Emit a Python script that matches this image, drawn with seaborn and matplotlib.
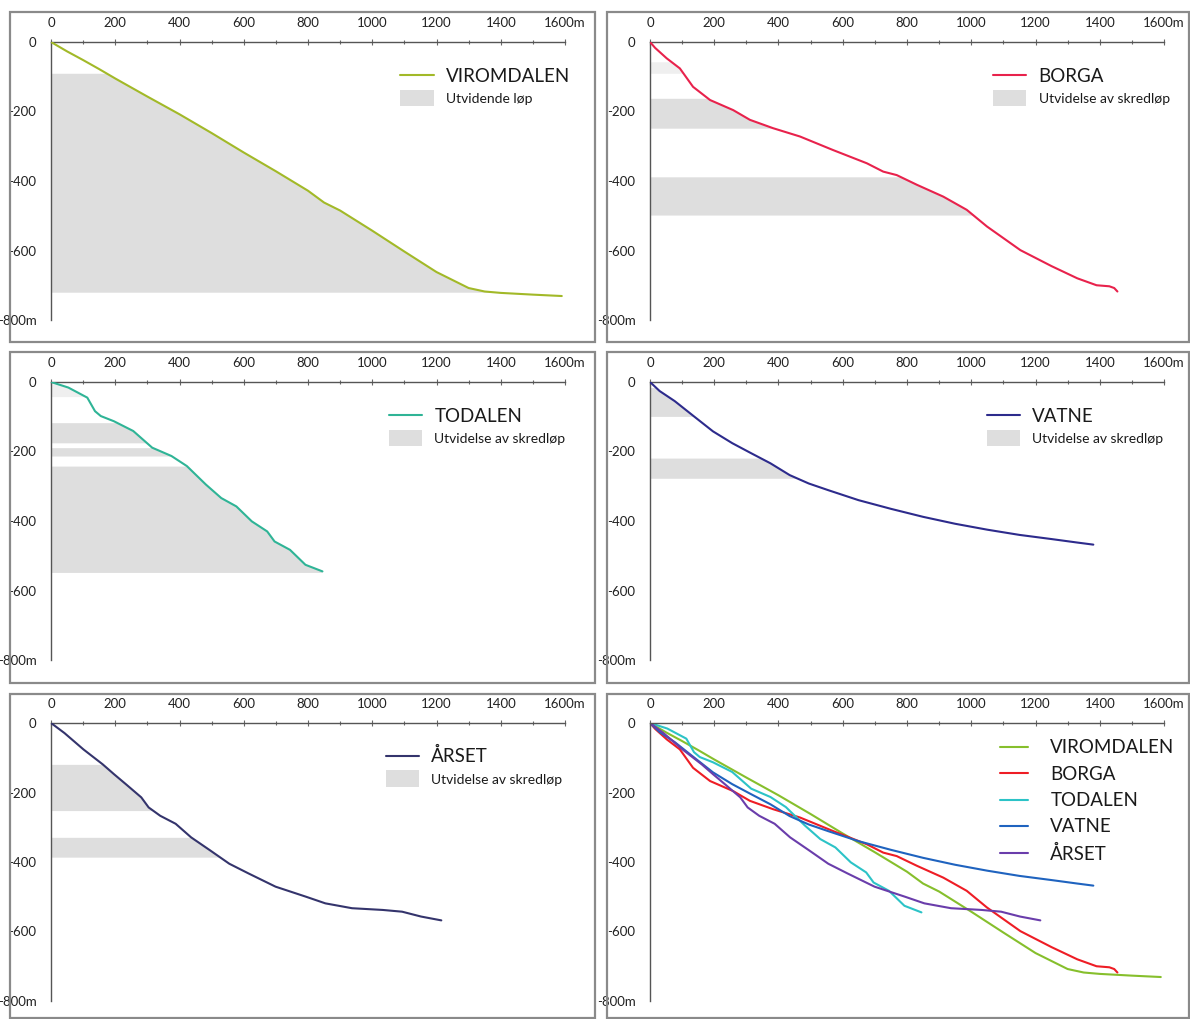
import numpy as np
import pandas as pd
import matplotlib
matplotlib.use("Agg")
import matplotlib.pyplot as plt
from matplotlib.lines import Line2D
from matplotlib.patches import Patch, Rectangle
from matplotlib.ticker import MultipleLocator
import seaborn as sns

sns.set_theme(style="white")
plt.rcParams["font.family"] = ["Lato", "DejaVu Sans"]

# ---- slide-path profiles: horizontal distance (m) and elevation drop (m) ----
viromdalen_x = [0, 50, 100, 150, 200, 300, 400, 500, 600, 700, 800, 850, 900,
                1000, 1100, 1200, 1300, 1350, 1400, 1500, 1590]
viromdalen_z = [0, -27, -52, -78, -105, -157, -208, -262, -318, -372, -428, -462,
                -485, -543, -603, -662, -708, -718, -722, -727, -731]

borga_x = [0, 16, 52, 93, 134, 187, 259, 311, 383, 467, 570, 675, 726, 768, 831,
           913, 986, 1049, 1153, 1250, 1330, 1390, 1430, 1445, 1455]
borga_z = [0, -17, -47, -76, -129, -167, -196, -224, -248, -272, -311, -349, -373,
           -383, -411, -445, -483, -531, -599, -645, -680, -700, -703, -708, -718]

todalen_x = [0, 54, 113, 137, 155, 196, 256, 315, 375, 423, 482, 530, 577, 625,
             673, 696, 744, 792, 845]
todalen_z = [0, -16, -45, -84, -98, -113, -141, -189, -213, -242, -295, -334, -358,
             -401, -430, -459, -483, -526, -545]

vatne_x = [0, 30, 77, 137, 196, 256, 315, 375, 435, 494, 554, 649, 750, 850, 950,
           1050, 1150, 1250, 1330, 1380]
vatne_z = [0, -26, -55, -99, -142, -176, -205, -234, -268, -292, -311, -340, -365,
           -388, -408, -425, -440, -452, -462, -468]

arset_x = [0, 42, 101, 161, 197, 233, 281, 304, 340, 388, 436, 496, 555, 615, 699,
           794, 854, 937, 1033, 1093, 1152, 1215]
arset_z = [0, -29, -76, -119, -148, -176, -214, -243, -267, -290, -329, -367, -405,
           -433, -471, -500, -519, -533, -538, -543, -557, -568]

# depth intervals where the slide path widens (top, bottom)
viromdalen_bands = [(-90, -720)]
borga_bands = [(-57, -90), (-162, -248), (-388, -498)]
todalen_bands = [(-5, -42), (-117, -175), (-189, -213), (-242, -548)]
vatne_bands = [(-16, -99), (-219, -277)]
arset_bands = [(-119, -252), (-329, -386)]

names = ["VIROMDALEN", "BORGA", "TODALEN", "VATNE", "ÅRSET"]
band_labels = ["Utvidende løp", "Utvidelse av skredløp", "Utvidelse av skredløp",
               "Utvidelse av skredløp", "Utvidelse av skredløp"]
x_ticks = [0, 200, 400, 600, 800, 1000, 1200, 1400, 1600]
x_ticklabels = ["0", "200", "400", "600", "800", "1000", "1200", "1400", "1600m"]
y_ticks = [0, -200, -400, -600, -800]
y_ticklabels = ["0", "-200", "-400", "-600", "-800m"]

profiles = {
    "VIROMDALEN": (viromdalen_x, viromdalen_z, viromdalen_bands),
    "BORGA": (borga_x, borga_z, borga_bands),
    "TODALEN": (todalen_x, todalen_z, todalen_bands),
    "VATNE": (vatne_x, vatne_z, vatne_bands),
    "ÅRSET": (arset_x, arset_z, arset_bands),
}

single_colors = {"VIROMDALEN": "#a2b928", "BORGA": "#e8224c", "TODALEN": "#2fb496",
                 "VATNE": "#2d2b8c", "ÅRSET": "#34346c"}
combined_colors = {"VIROMDALEN": "#86bf2c", "BORGA": "#ee1d25", "TODALEN": "#2cc3c7",
                   "VATNE": "#1f63bf", "ÅRSET": "#6a3dab"}
band_color = "#dedede"
faint_band_color = "#efefef"

W, H = 1190, 1019
fig = plt.figure(figsize=(W / 100, H / 100), dpi=100)
fig.patch.set_facecolor("white")

col_left = [51, 650]
ax_w = 514
row_top = [42, 382, 723]
ax_h = 278
frame_x = [(10, 595), (607, 1189)]
frame_y = [(12, 342), (352, 683), (694, 1018)]


def make_axes(r, c):
    ax = fig.add_axes([col_left[c] / W, 1 - (row_top[r] + ax_h) / H, ax_w / W, ax_h / H])
    ax.set_xlim(0, 1600)
    ax.set_ylim(-800, 0)
    ax.patch.set_alpha(0)
    for s in ["right", "bottom"]:
        ax.spines[s].set_visible(False)
    for s in ["top", "left"]:
        ax.spines[s].set_color("#555555")
        ax.spines[s].set_linewidth(1.0)
    ax.xaxis.tick_top()
    ax.set_xticks(x_ticks)
    ax.set_xticklabels(x_ticklabels)
    ax.set_yticks(y_ticks)
    ax.set_yticklabels(y_ticklabels)
    ax.xaxis.set_minor_locator(MultipleLocator(100))
    ax.yaxis.set_minor_locator(MultipleLocator(100))
    ax.tick_params(which="both", direction="inout", color="#666666", width=0.8)
    ax.tick_params(which="major", length=5)
    ax.tick_params(which="minor", length=3)
    ax.tick_params(axis="x", which="major", pad=7, labelsize=9.5, labelcolor="#222222")
    ax.tick_params(axis="y", which="major", pad=8, labelsize=9.5, labelcolor="#222222")
    # grey frame around the panel
    fx0, fx1 = frame_x[c]
    fy0, fy1 = frame_y[r]
    fig.patches.append(Rectangle((fx0 / W, 1 - fy1 / H), (fx1 - fx0) / W, (fy1 - fy0) / H,
                                 transform=fig.transFigure, fill=False,
                                 edgecolor="#8a8a8a", linewidth=1.6, zorder=0))
    return ax


positions = [(0, 0), (0, 1), (1, 0), (1, 1), (2, 0)]
legend_x = [0.665, 0.652, 0.642, 0.640, 0.636]
legend_y = [0.935, 0.935, 0.935, 0.935, 0.94]
for i, (name, (r, c), blabel) in enumerate(zip(names, positions, band_labels)):
    xs, zs, bands = profiles[name]
    ax = make_axes(r, c)
    x_arr = np.array(xs, dtype=float)
    z_arr = np.array(zs, dtype=float)
    for top, bottom in bands:
        depth = np.linspace(top, bottom, 60)
        reach = np.interp(-depth, -z_arr, x_arr)
        faint = (top - bottom) < 45 and top > -100
        ax.fill_betweenx(depth, 0, reach, color=faint_band_color if faint else band_color,
                         linewidth=0, zorder=1)
    df = pd.DataFrame({"x": xs, "z": zs})
    sns.lineplot(data=df, x="x", y="z", sort=False, estimator=None, ax=ax,
                 color=single_colors[name], linewidth=1.5, zorder=3)
    ax.set_xlabel("")
    ax.set_ylabel("")
    handles = [Line2D([], [], color=single_colors[name], linewidth=1.5, label=name),
               Patch(facecolor=band_color, edgecolor="none", label=blabel)]
    leg = ax.legend(handles=handles, loc="upper left",
                    bbox_to_anchor=(legend_x[i], legend_y[i]),
                    frameon=False, handlelength=2.2, handleheight=1.3,
                    handletextpad=0.8, labelspacing=0.3, borderpad=0)
    leg.get_texts()[0].set_fontsize(13.5)
    leg.get_texts()[1].set_fontsize(10)
    for t in leg.get_texts():
        t.set_color("#1a1a1a")

# combined panel
ax = make_axes(2, 1)
long_df = pd.concat([pd.DataFrame({"x": profiles[n][0], "z": profiles[n][1], "skred": n})
                     for n in names], ignore_index=True)
sns.lineplot(data=long_df, x="x", y="z", hue="skred", hue_order=names,
             palette=combined_colors, sort=False, estimator=None, ax=ax,
             linewidth=1.5)
ax.set_xlabel("")
ax.set_ylabel("")
leg = ax.legend(loc="upper left", bbox_to_anchor=(0.662, 0.975), frameon=False,
                handlelength=1.5, handletextpad=1.2, labelspacing=0.5,
                borderpad=0, fontsize=13.5)
for line in leg.get_lines():
    line.set_linewidth(1.5)
for t in leg.get_texts():
    t.set_color("#1a1a1a")

fig.savefig("out.png", dpi=100, facecolor="white")
